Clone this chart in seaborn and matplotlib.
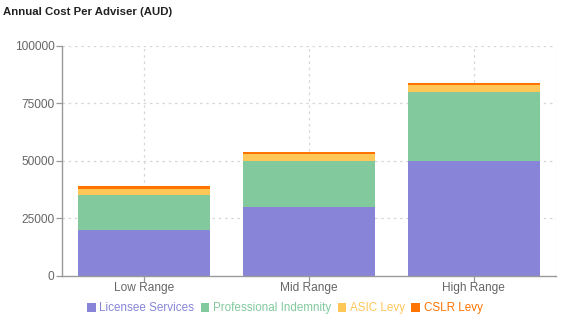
import matplotlib
matplotlib.use("Agg")
import matplotlib.pyplot as plt
from matplotlib.patches import Patch
import numpy as np
import pandas as pd
import seaborn as sns

# Cost components per adviser, by practice size range (AUD)
ranges = ["Low Range", "Mid Range", "High Range"]
licensee_services = [20000, 30000, 50000]
professional_indemnity = [15000, 20000, 30000]
asic_levy = [3000, 3000, 3000]
cslr_levy = [1000, 1000, 1000]

series_names = ["Licensee Services", "Professional Indemnity", "ASIC Levy", "CSLR Levy"]
series_values = [licensee_services, professional_indemnity, asic_levy, cslr_levy]
series_colors = ["#8884d8", "#82ca9d", "#ffc658", "#ff7300"]
y_ticks = [0, 25000, 50000, 75000, 100000]

sns.set_theme(style="white")
plt.rcParams["font.family"] = ["Liberation Sans", "DejaVu Sans"]

fig = plt.figure(figsize=(5.73, 3.22), dpi=100)
ax = fig.add_axes([0.1082, 0.1429, 0.8621, 0.7143])

# stacked bars: draw cumulative totals from the top layer down
cumulative = np.cumsum(np.array(series_values), axis=0)
for i in range(len(series_names) - 1, -1, -1):
    df = pd.DataFrame({"range": ranges, "total": cumulative[i]})
    sns.barplot(data=df, x="range", y="total", color=series_colors[i],
                width=0.8, saturation=1, linewidth=0, ax=ax, zorder=3)

ax.set_xlim(-0.5, 2.5)
ax.set_ylim(0, 100000)
ax.set_yticks(y_ticks)
ax.set_yticklabels([str(v) for v in y_ticks])
ax.set_xlabel("")
ax.set_ylabel("")

grid_kw = dict(color="#d6d6d6", linewidth=0.9, linestyle=(0, (2, 3)), zorder=0)
for v in y_ticks[1:]:
    ax.axhline(v, **grid_kw)
for x in list(range(len(ranges))) + [2.5]:
    ax.axvline(x, **grid_kw)

for side in ["top", "right"]:
    ax.spines[side].set_visible(False)
for side in ["left", "bottom"]:
    ax.spines[side].set_color("#999999")
    ax.spines[side].set_linewidth(1.0)
    ax.spines[side].set_zorder(4)

ax.tick_params(axis="both", which="both", direction="out", length=4, width=0.9,
               color="#999999", labelcolor="#666666", labelsize=8.6,
               left=True, bottom=True)
ax.tick_params(axis="y", pad=1.5)
ax.tick_params(axis="x", pad=0.5)

fig.text(0.005, 0.962, "Annual Cost Per Adviser (AUD)", fontsize=8.2,
         fontweight="bold", color="#222222", ha="left", va="center")

handles = [Patch(facecolor=c, edgecolor="none") for c in series_colors]
fig.legend(handles, series_names, loc="center", bbox_to_anchor=(0.497, 0.042),
           ncol=4, frameon=False, fontsize=8.4, labelcolor=series_colors,
           handlelength=0.75, handleheight=0.75, handletextpad=0.3,
           columnspacing=0.55, borderpad=0)

fig.savefig("out.png", dpi=100)
